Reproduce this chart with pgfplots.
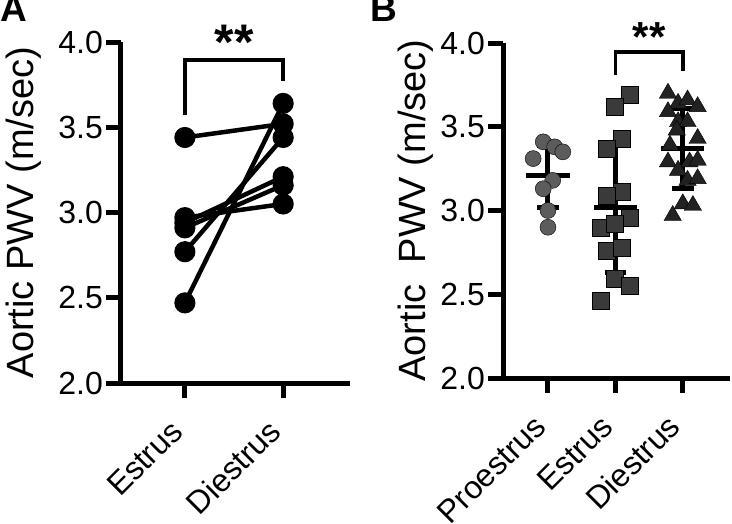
\documentclass[border=0pt]{standalone}
\usepackage{pgfplots}
\pgfplotsset{compat=1.18}
\usepackage{fontspec}
\setmainfont{Liberation Sans}
\definecolor{cgray}{HTML}{5C5C5C}
\definecolor{sgray}{HTML}{3A3A3A}
\definecolor{tgray}{HTML}{222222}
\pgfplotsset{
  panel/.style={
    anchor=south west,
    scale only axis,
    axis lines=left,
    axis line style={-, line width=5pt, black},
    tick align=outside,
    major tick length=15pt,
    tick style={line width=5pt, black},
    ymin=2, ymax=4,
    ytick={2,2.5,3,3.5,4},
    yticklabels={2.0,2.5,3.0,3.5,4.0},
    /pgf/number format/assume math mode=true,
    ticklabel style={font=\fontsize{32}{32}\selectfont},
    yticklabel style={inner sep=3pt},
    xticklabel style={rotate=45, anchor=south east, inner sep=0pt},
    xticklabel shift=36pt,
    clip=false,
    ylabel style={font=\fontsize{38}{38}\selectfont, anchor=center},
  }
}
\begin{document}
\begin{tikzpicture}
\useasboundingbox (0pt,0pt) rectangle (732pt,523pt);
% ---------------- Panel A ----------------
\begin{axis}[panel,
  at={(121pt,140pt)}, width=229pt, height=341pt,
  xmin=-0.65, xmax=1.68,
  xtick={0,1}, xticklabels={Estrus,Diestrus},
  ylabel={Aortic PWV (m/sec)},
  ylabel style={at={(axis description cs:-0.424,0.5)}},
]
\addplot[black, line width=4.5pt, mark=*, mark size=8.3pt] coordinates {(0,3.44) (1,3.52)};
\addplot[black, line width=4.5pt, mark=*, mark size=8.3pt] coordinates {(0,2.97) (1,3.05)};
\addplot[black, line width=4.5pt, mark=*, mark size=8.3pt] coordinates {(0,2.94) (1,3.21)};
\addplot[black, line width=4.5pt, mark=*, mark size=8.3pt] coordinates {(0,2.91) (1,3.16)};
\addplot[black, line width=4.5pt, mark=*, mark size=8.3pt] coordinates {(0,2.77) (1,3.44)};
\addplot[black, line width=4.5pt, mark=*, mark size=8.3pt] coordinates {(0,2.47) (1,3.64)};
\addplot[black, line width=4.5pt, mark=none, line join=miter] coordinates {(0,3.57) (0,3.894) (1,3.894) (1,3.77)};
\node[anchor=base, inner sep=0pt, font=\bfseries\fontsize{50}{50}\selectfont] at (axis cs:0.5,3.897) {**};
\end{axis}
% ---------------- Panel B ----------------
\begin{axis}[panel,
  at={(503pt,145pt)}, width=227pt, height=335pt,
  xmin=-0.667, xmax=2.7,
  xtick={0,1,2}, xticklabels={Proestrus,Estrus,Diestrus},
  ylabel={Aortic\ \ PWV (m/sec)},
  ylabel style={at={(axis description cs:-0.383,0.5)}},
]
\addplot[only marks, mark=*, mark size=8pt, mark options={draw=none, fill=cgray}] coordinates {
 (-0.07,3.41) (0.10,3.38) (0.22,3.35) (-0.22,3.31) (0.07,3.18) (-0.07,3.13) (0,3.00) (0,2.90)};
\addplot[only marks, mark=square*, mark size=8.5pt, mark options={draw=none, fill=sgray}] coordinates {
 (1.21,3.69) (0.99,3.62) (1.10,3.43) (0.87,3.37) (1.10,3.11) (0.87,3.09) (1.21,2.96)
 (0.78,2.90) (0.99,2.92) (0.87,2.76) (1.10,2.78) (0.99,2.59) (1.21,2.55) (0.78,2.46)};
\addplot[only marks, mark=triangle*, mark size=10pt, mark options={draw=none, fill=tgray}] coordinates {
 (1.78,3.70) (1.93,3.64) (2.07,3.66) (2.22,3.62) (1.78,3.59) (1.93,3.53) (2.07,3.53)
 (2.22,3.43) (1.81,3.39) (1.91,3.48) (1.78,3.29) (1.93,3.24) (2.10,3.29) (2.22,3.30)
 (2.07,3.18) (2.22,3.19) (2.00,3.04) (2.15,3.03) (1.85,2.97)};
% mean and SD
\addplot[black, line width=5pt] coordinates {(-0.32,3.21) (0.32,3.21)};
\addplot[black, line width=5pt] coordinates {(0,3.02) (0,3.39)};
\addplot[black, line width=5pt] coordinates {(-0.16,3.39) (0.16,3.39)};
\addplot[black, line width=5pt] coordinates {(-0.16,3.02) (0.16,3.02)};
\addplot[black, line width=5pt] coordinates {(0.68,3.02) (1.32,3.02)};
\addplot[black, line width=5pt] coordinates {(1,2.63) (1,3.40)};
\addplot[black, line width=5pt] coordinates {(0.84,3.40) (1.16,3.40)};
\addplot[black, line width=5pt] coordinates {(0.84,2.63) (1.16,2.63)};
\addplot[black, line width=5pt] coordinates {(1.68,3.37) (2.32,3.37)};
\addplot[black, line width=5pt] coordinates {(2,3.13) (2,3.61)};
\addplot[black, line width=5pt] coordinates {(1.84,3.61) (2.16,3.61)};
\addplot[black, line width=5pt] coordinates {(1.84,3.13) (2.16,3.13)};
\addplot[black, line width=3.5pt, mark=none, line join=miter] coordinates {(1,3.81) (1,3.946) (2,3.946) (2,3.83)};
\node[anchor=base, inner sep=0pt, font=\bfseries\fontsize{42}{42}\selectfont] at (axis cs:1.5,3.95) {**};
\end{axis}
\node[anchor=base west, inner sep=0pt, font=\bfseries\fontsize{37}{37}\selectfont] at (0pt,501pt) {A};
\node[anchor=base west, inner sep=0pt, font=\bfseries\fontsize{37}{37}\selectfont] at (370pt,501pt) {B};
\end{tikzpicture}
\end{document}
